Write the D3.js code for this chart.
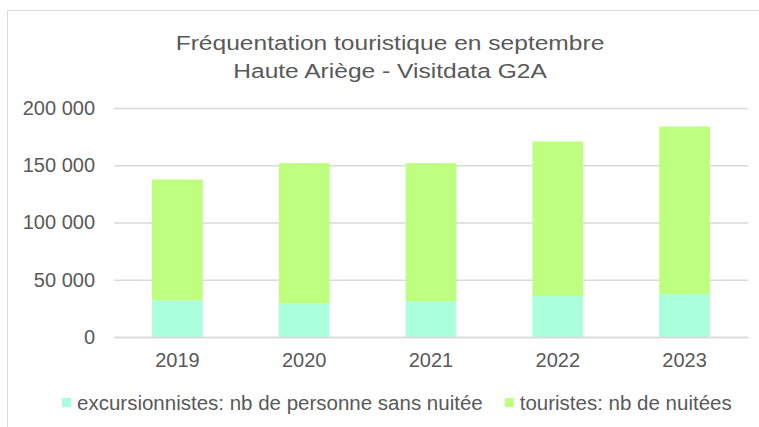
<!DOCTYPE html>
<html lang="fr">
<head>
<meta charset="UTF-8">
<style>
    body { margin: 0; background: #fff; }
    svg text { font-family: "Liberation Sans", Arial, sans-serif; fill: #595959; }
    .grid line { stroke: #d9d9d9; stroke-width: 1.5; }
    .grid path { display: none; }
</style>
</head>
<body>
<div class="main"></div>
<script src="https://cdn.jsdelivr.net/npm/d3@7"></script>
<script>
    // data
    var years = ["2019", "2020", "2021", "2022", "2023"];
    var excursionnistes = [32000, 29200, 31200, 35800, 37600];
    var touristes = [105600, 122600, 120600, 135000, 146300];
    var yTicks = [0, 50000, 100000, 150000, 200000];
    var seriesNames = ["excursionnistes: nb de personne sans nuitée", "touristes: nb de nuitées"];
    var colors = ["#aaffdc", "#bfff7f"];

    var W = 759, H = 427;
    var margin = { top: 108, right: 11, bottom: 90, left: 114 },
        width = W - margin.left - margin.right,
        height = H - margin.top - margin.bottom;

    var svg = d3.select(".main").append("svg")
        .attr("width", W)
        .attr("height", H);

    // chart frame
    svg.append("rect")
        .attr("x", 7.5).attr("y", 10.5)
        .attr("width", 800).attr("height", 500)
        .attr("fill", "none")
        .attr("stroke", "#d9d9d9");

    // title is a bit wider than plain Arial in the picture
    var title = svg.append("g")
        .attr("transform", "translate(390,0) scale(1.17,1)")
        .append("text")
        .attr("text-anchor", "middle")
        .attr("font-size", "21px");
    title.append("tspan").attr("x", 0).attr("y", 50).text("Fréquentation touristique en septembre");
    title.append("tspan").attr("x", 0).attr("y", 78).text("Haute Ariège - Visitdata G2A");

    var g = svg.append("g")
        .attr("transform", "translate(" + margin.left + "," + margin.top + ")");

    var x = d3.scaleBand().domain(years).range([0, width]).padding(0);
    var y = d3.scaleLinear().domain([0, 200000]).range([height, 0]);

    var fmt = function (d) { return d3.format(",")(d).replace(/,/g, " "); };

    g.append("g")
        .attr("class", "grid")
        .call(d3.axisLeft(y).tickValues(yTicks).tickSize(-width).tickFormat(""));

    g.append("g")
        .call(d3.axisLeft(y).tickValues(yTicks).tickSize(0).tickPadding(19).tickFormat(fmt))
        .call(function (s) { s.select(".domain").remove(); })
        .selectAll("text")
        .attr("font-size", "20px")
        .attr("fill", "#595959");

    var stacked = d3.stack().keys([0, 1])(years.map(function (yr, i) {
        return { 0: excursionnistes[i], 1: touristes[i], year: yr };
    }));

    var barW = x.bandwidth() * 0.4;

    g.selectAll(".layer")
        .data(stacked)
        .enter().append("g")
        .attr("class", "layer")
        .attr("fill", function (d, i) { return colors[i]; })
        .selectAll("rect")
        .data(function (d) { return d; })
        .enter().append("rect")
        .attr("x", function (d) { return x(d.data.year) + (x.bandwidth() - barW) / 2; })
        .attr("y", function (d) { return y(d[1]); })
        .attr("width", barW)
        .attr("height", function (d) { return y(d[0]) - y(d[1]); });

    g.append("g")
        .attr("transform", "translate(0," + height + ")")
        .call(d3.axisBottom(x).tickSize(0).tickPadding(16))
        .call(function (s) {
            s.select(".domain").attr("stroke", "#d9d9d9").attr("stroke-width", 1.5);
        })
        .selectAll("text")
        .attr("font-size", "20px")
        .attr("fill", "#595959");

    // legend
    var legend = svg.append("g").attr("transform", "translate(0,410)");
    var lx = 62;
    seriesNames.forEach(function (name, i) {
        legend.append("rect")
            .attr("x", lx).attr("y", -12)
            .attr("width", 9).attr("height", 9)
            .attr("fill", colors[i]);
        var t = legend.append("text")
            .attr("x", lx + 15).attr("y", 0)
            .attr("font-size", "20.5px")
            .text(name);
        lx += 15 + t.node().getComputedTextLength() + 22;
    });
</script>
</body>
</html>
